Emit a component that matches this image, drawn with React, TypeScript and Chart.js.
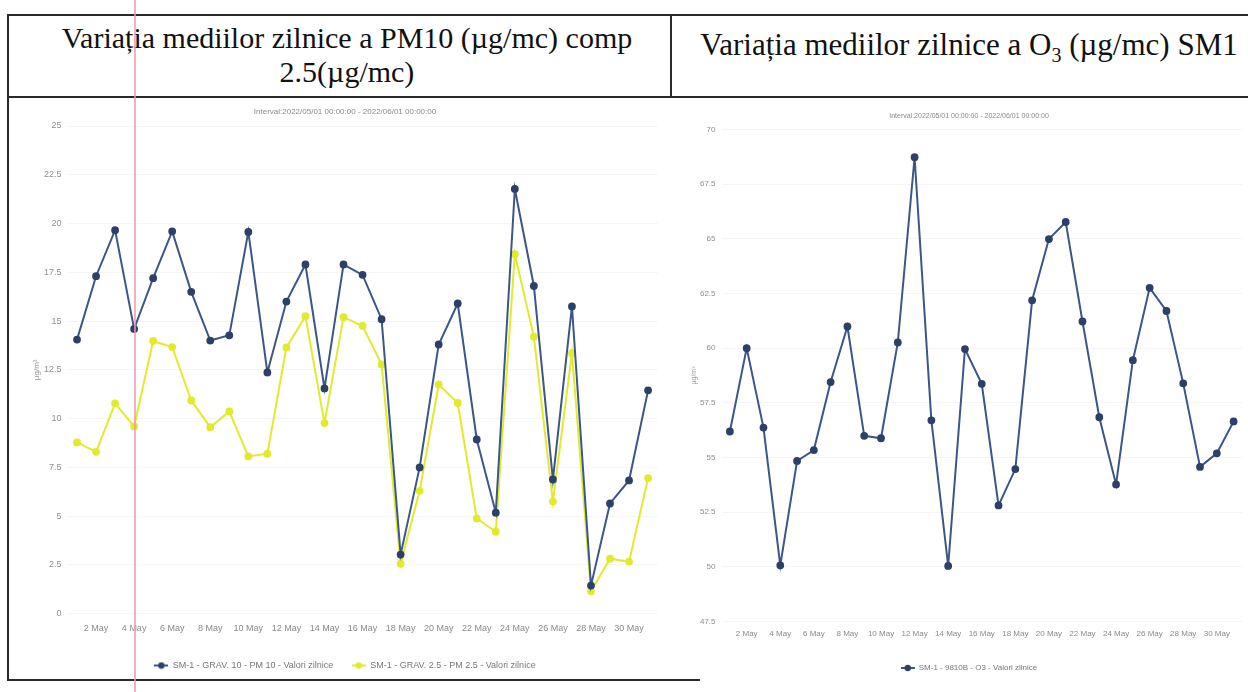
import React, { useEffect, useRef } from "react";
import { Chart, registerables } from "chart.js";

Chart.register(...registerables);

const dayLabels = [
  "1 May", "2 May", "3 May", "4 May", "5 May", "6 May", "7 May", "8 May", "9 May", "10 May",
  "11 May", "12 May", "13 May", "14 May", "15 May", "16 May", "17 May", "18 May", "19 May", "20 May",
  "21 May", "22 May", "23 May", "24 May", "25 May", "26 May", "27 May", "28 May", "29 May", "30 May", "31 May",
];

const pm10Values = [
  14.05, 17.3, 19.66, 14.6, 17.2, 19.6, 16.5, 14.0, 14.27, 19.57,
  12.37, 16.0, 17.9, 11.55, 17.9, 17.37, 15.1, 3.03, 7.5, 13.8,
  15.9, 8.93, 5.18, 21.77, 16.8, 6.88, 15.75, 1.44, 5.65, 6.83, 11.45,
];

const pm25Values = [
  8.78, 8.3, 10.78, 9.6, 13.98, 13.67, 10.93, 9.56, 10.37, 8.06,
  8.2, 13.65, 15.25, 9.77, 15.2, 14.75, 12.78, 2.56, 6.3, 11.75,
  10.8, 4.88, 4.2, 18.43, 14.2, 5.75, 13.35, 1.15, 2.82, 2.67, 6.95,
];

const o3Values = [
  56.19, 60.0, 56.37, 50.07, 54.84, 55.34, 58.45, 60.99, 55.99, 55.88,
  60.26, 68.73, 56.7, 50.04, 59.96, 58.37, 52.81, 54.47, 62.19, 64.99,
  65.77, 61.22, 56.84, 53.77, 59.45, 62.76, 61.7, 58.39, 54.57, 55.19, 56.65,
];

const pmSeriesNames = [
  "SM-1 - GRAV. 10 - PM 10 - Valori zilnice",
  "SM-1 - GRAV. 2.5 - PM 2.5 - Valori zilnice",
];
const o3SeriesName = "SM-1 - 9810B - O3 - Valori zilnice";
const intervalText = "Interval:2022/05/01 00:00:00 - 2022/06/01 00:00:00";
const unitText = "µg/m³";

const BLUE = "#3b5689";
const BLUE_PT = "#2c4068";
const YELLOW = "#e2ea2c";
const SANS = "'Liberation Sans', Arial, sans-serif";

function makeMarker(line: string, dot: string) {
  const c = document.createElement("canvas");
  c.width = 14;
  c.height = 8;
  const ctx = c.getContext("2d")!;
  ctx.strokeStyle = line;
  ctx.lineWidth = 2;
  ctx.beginPath();
  ctx.moveTo(0, 4);
  ctx.lineTo(14, 4);
  ctx.stroke();
  ctx.fillStyle = dot;
  ctx.beginPath();
  ctx.arc(7, 4, 3.2, 0, Math.PI * 2);
  ctx.fill();
  return c;
}

type Cfg = {
  datasets: { label: string; data: number[]; line: string; dot: string }[];
  min: number;
  max: number;
  fs: number;
  titlePad: { top: number; bottom: number };
  yWidth: number;
  yTitlePad: number;
  xPadRight: number;
  xTickPad: number;
  legendPad: number;
  layoutPad: { left: number; right: number };
};

function LineChart({ cfg, style }: { cfg: Cfg; style: React.CSSProperties }) {
  const ref = useRef<HTMLCanvasElement>(null);
  useEffect(() => {
    if (!ref.current) return;
    const markers = cfg.datasets.map((d) => makeMarker(d.line, d.dot));
    const chart = new Chart(ref.current, {
      type: "line",
      data: {
        labels: dayLabels,
        datasets: cfg.datasets.map((d) => ({
          label: d.label,
          data: d.data,
          borderColor: d.line,
          backgroundColor: d.dot,
          pointBackgroundColor: d.dot,
          pointBorderColor: d.dot,
          pointRadius: 2.9,
          borderWidth: 2,
          tension: 0,
          fill: false,
        })),
      },
      options: {
        animation: false,
        responsive: true,
        maintainAspectRatio: false,
        layout: { padding: { left: cfg.layoutPad.left, right: cfg.layoutPad.right, top: 0, bottom: 0 } },
        plugins: {
          title: {
            display: true,
            text: intervalText,
            color: "#8a8a8a",
            font: { family: SANS, size: cfg.fs - 1, weight: "normal" },
            padding: cfg.titlePad,
          },
          legend: {
            position: "bottom",
            labels: {
              color: "#777",
              font: { family: SANS, size: cfg.fs },
              padding: cfg.legendPad,
              usePointStyle: true,
              pointStyleWidth: 14,
              generateLabels: (chart: any) => {
                const items = (Chart as any).defaults.plugins.legend.labels.generateLabels(chart);
                items.forEach((it: any, i: number) => {
                  it.pointStyle = markers[i];
                });
                return items;
              },
            },
          },
          tooltip: { enabled: false },
        },
        scales: {
          x: {
            type: "category",
            offset: true,
            grid: { display: false, drawTicks: false },
            border: { display: false },
            ticks: {
              autoSkip: false,
              maxRotation: 0,
              minRotation: 0,
              padding: cfg.xTickPad,
              color: "#8a8a8a",
              font: { family: SANS, size: cfg.fs },
              callback: (_v: any, i: number) => (i % 2 === 1 ? dayLabels[i] : ""),
            },
            afterFit: (s: any) => {
              s.paddingRight = cfg.xPadRight;
            },
          },
          y: {
            min: cfg.min,
            max: cfg.max,
            grid: { color: "rgba(0,0,0,0.04)", drawTicks: false },
            border: { display: false },
            ticks: {
              stepSize: 2.5,
              padding: 6,
              color: "#8f8f8f",
              font: { family: SANS, size: cfg.fs },
            },
            title: {
              display: true,
              text: unitText,
              color: "#9a9a9a",
              font: { family: SANS, size: cfg.fs - 1 },
              padding: { top: cfg.yTitlePad, bottom: 0 },
            },
            afterFit: (s: any) => {
              s.width = cfg.yWidth;
            },
          },
        },
      } as any,
    });
    return () => chart.destroy();
  }, []);
  return (
    <div style={{ position: "absolute", ...style }}>
      <canvas ref={ref} />
    </div>
  );
}

const leftCfg: Cfg = {
  datasets: [
    { label: pmSeriesNames[0], data: pm10Values, line: BLUE, dot: BLUE_PT },
    { label: pmSeriesNames[1], data: pm25Values, line: YELLOW, dot: YELLOW },
  ],
  min: 0,
  max: 25,
  fs: 9,
  titlePad: { top: 9, bottom: 9.4 },
  yWidth: 57.5,
  yTitlePad: 22,
  xPadRight: 22.4,
  xTickPad: 9,
  legendPad: 18.5,
  layoutPad: { left: 0, right: 0 },
};

const rightCfg: Cfg = {
  datasets: [{ label: o3SeriesName, data: o3Values, line: BLUE, dot: BLUE_PT }],
  min: 47.5,
  max: 70,
  fs: 8,
  titlePad: { top: 14.2, bottom: 8.9 },
  yWidth: 31.5,
  yTitlePad: 0,
  xPadRight: 2.5,
  xTickPad: 7.7,
  legendPad: 17.5,
  layoutPad: { left: 16, right: 0 },
};

const line = (s: React.CSSProperties): React.CSSProperties => ({
  position: "absolute",
  background: "#2a2a2a",
  ...s,
});

const SERIF = "'Liberation Serif', 'Times New Roman', serif";

export default function App() {
  return (
    <div
      style={{
        position: "absolute",
        left: 0,
        top: 0,
        width: 1248,
        height: 692,
        overflow: "hidden",
        background: "#fff",
      }}
    >
      {/* table borders */}
      <div style={line({ left: 8, top: 14, width: 1240, height: 2 })} />
      <div style={line({ left: 8, top: 96, width: 1240, height: 2 })} />
      <div style={line({ left: 7, top: 14, width: 2, height: 667 })} />
      <div style={line({ left: 670, top: 14, width: 2, height: 84 })} />
      <div style={line({ left: 8, top: 679, width: 692, height: 2 })} />
      {/* headers */}
      <div
        style={{
          position: "absolute",
          left: 8,
          top: 21,
          width: 678,
          textAlign: "center",
          fontFamily: SERIF,
          fontSize: 30,
          lineHeight: "34px",
          color: "#111",
          whiteSpace: "nowrap",
        }}
      >
        Variația mediilor zilnice a PM10 (µg/mc) comp
        <br />
        2.5(µg/mc)
      </div>
      <div
        style={{
          position: "absolute",
          left: 690,
          top: 28,
          width: 558,
          textAlign: "center",
          fontFamily: SERIF,
          fontSize: 31,
          lineHeight: "34px",
          color: "#111",
          whiteSpace: "nowrap",
        }}
      >
        Variația mediilor zilnice a O<sub style={{ fontSize: 20, lineHeight: 0 }}>3</sub> (µg/mc) SM1
      </div>
      <LineChart cfg={leftCfg} style={{ left: 10, top: 98, width: 670, height: 582 }} />
      <LineChart cfg={rightCfg} style={{ left: 674, top: 98, width: 574, height: 584 }} />
      {/* pink margin line of the scanned page */}
      <div style={{ position: "absolute", left: 134, top: 0, width: 2, height: 692, background: "rgba(240,150,175,0.75)" }} />
    </div>
  );
}
